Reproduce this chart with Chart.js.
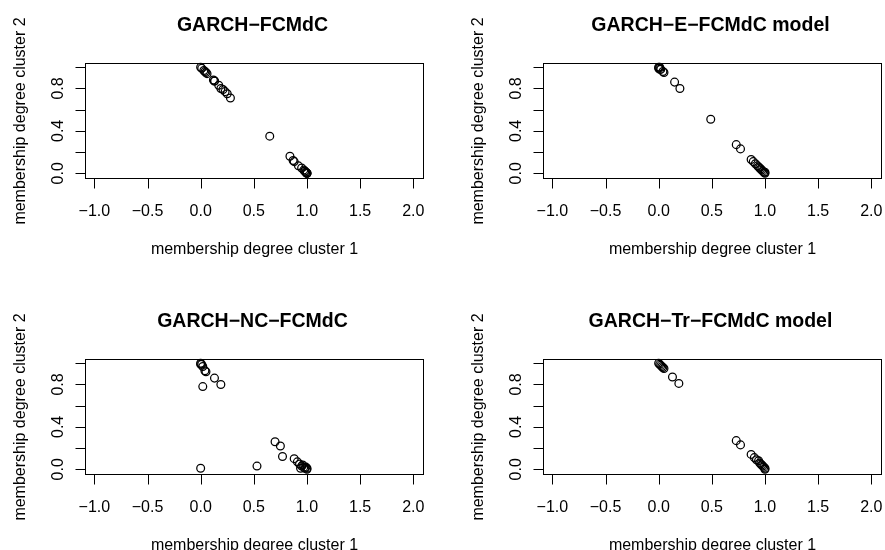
<!DOCTYPE html>
<html>
<head>
<meta charset="utf-8">
<title>Membership degrees</title>
<script src="https://cdn.jsdelivr.net/npm/chart.js@4.4.1/dist/chart.umd.min.js"></script>
<style>
  html, body { margin: 0; padding: 0; background: #fff; overflow: hidden; }
  #wrap { position: relative; width: 885px; height: 550px; overflow: hidden; }
  #wrap canvas { position: absolute; }
</style>
</head>
<body>
<div id="wrap">
  <canvas id="p1" width="458" height="296" style="left:0;top:0"></canvas>
  <canvas id="p2" width="458" height="296" style="left:458px;top:0"></canvas>
  <canvas id="p3" width="458" height="296" style="left:0;top:296px"></canvas>
  <canvas id="p4" width="458" height="296" style="left:458px;top:296px"></canvas>
</div>
<script>
// membership degrees per model (cluster 1 on x, cluster 2 on y)
const fcmdcX = [0.00, 0.01, 0.03, 0.04, 0.05, 0.06, 0.12, 0.13, 0.13, 0.17, 0.19, 0.21, 0.23, 0.25, 0.28,
                0.65, 0.84, 0.87, 0.88, 0.92, 0.95, 0.97, 0.98, 0.98, 0.99, 0.99, 1.00, 1.00, 1.00];
const fcmdcY = [1.00, 0.99, 0.97, 0.96, 0.95, 0.94, 0.88, 0.87, 0.87, 0.83, 0.80, 0.79, 0.77, 0.75, 0.71,
                0.35, 0.16, 0.12, 0.11, 0.07, 0.05, 0.03, 0.02, 0.02, 0.01, 0.01, 0.00, 0.00, 0.00];

const eFcmdcX = [0.00, 0.00, 0.01, 0.01, 0.02, 0.04, 0.05, 0.15, 0.20, 0.49, 0.73, 0.77,
                 0.87, 0.89, 0.91, 0.93, 0.94, 0.95, 0.96, 0.97, 0.98, 0.99, 1.00, 1.00];
const eFcmdcY = [1.00, 0.99, 1.00, 0.98, 0.98, 0.96, 0.95, 0.86, 0.80, 0.51, 0.27, 0.23,
                 0.13, 0.11, 0.09, 0.07, 0.06, 0.05, 0.04, 0.03, 0.02, 0.01, 0.01, 0.00];

const ncFcmdcX = [0.00, 0.00, 0.01, 0.02, 0.04, 0.05, 0.13, 0.19, 0.02, 0.00, 0.53, 0.70, 0.75,
                  0.77, 0.88, 0.91, 0.93, 0.94, 0.95, 0.96, 0.97, 0.98, 0.99, 1.00, 1.00];
const ncFcmdcY = [1.00, 0.99, 0.99, 0.97, 0.93, 0.92, 0.86, 0.80, 0.78, 0.01, 0.03, 0.26, 0.22,
                  0.12, 0.10, 0.07, 0.05, 0.01, 0.03, 0.04, 0.02, 0.01, 0.02, 0.01, 0.00];

const trFcmdcX = [0.00, 0.01, 0.02, 0.03, 0.04, 0.05, 0.13, 0.19, 0.73, 0.77, 0.87,
                  0.90, 0.92, 0.94, 0.95, 0.96, 0.97, 0.98, 0.99, 1.00, 1.00];
const trFcmdcY = [1.00, 0.99, 0.98, 0.97, 0.96, 0.95, 0.87, 0.81, 0.27, 0.23, 0.14,
                  0.11, 0.09, 0.08, 0.06, 0.05, 0.04, 0.03, 0.02, 0.01, 0.00];

const titles = ['GARCH\u2212FCMdC', 'GARCH\u2212E\u2212FCMdC model',
                'GARCH\u2212NC\u2212FCMdC', 'GARCH\u2212Tr\u2212FCMdC model'];

const xTicks = [-1, -0.5, 0, 0.5, 1, 1.5, 2];
const xTickLabels = ['\u22121.0', '\u22120.5', '0.0', '0.5', '1.0', '1.5', '2.0'];
const yTicks = [0, 0.2, 0.4, 0.6, 0.8, 1];
const yTickLabels = ['0.0', '', '0.4', '', '0.8', ''];

const xLabel = 'membership degree cluster 1';
const yLabel = 'membership degree cluster 2';

const FONT = "'Liberation Sans', Arial, Helvetica, sans-serif";

// base-graphics look: box, outward ticks, rotated y labels
const rAxes = {
  id: 'rAxes',
  afterDraw(chart, args, opts) {
    const { ctx, chartArea: a, scales: { x, y } } = chart;
    ctx.save();
    ctx.strokeStyle = '#000';
    ctx.fillStyle = '#000';
    ctx.lineWidth = 1;

    const L = Math.round(a.left) + 0.5, T = Math.round(a.top) + 0.5;
    const R = Math.round(a.right) + 0.5, B = Math.round(a.bottom) + 0.5;
    ctx.strokeRect(L, T, R - L, B - T);

    ctx.beginPath();
    xTicks.forEach(v => {
      const px = Math.round(x.getPixelForValue(v)) + 0.5;
      ctx.moveTo(px, B); ctx.lineTo(px, B + 10);
    });
    yTicks.forEach(v => {
      const py = Math.round(y.getPixelForValue(v)) + 0.5;
      ctx.moveTo(L, py); ctx.lineTo(L - 10, py);
    });
    ctx.stroke();

    ctx.font = '16px ' + FONT;
    ctx.textAlign = 'center';
    ctx.textBaseline = 'alphabetic';
    xTicks.forEach((v, i) => {
      ctx.fillText(xTickLabels[i], x.getPixelForValue(v), B + 37);
    });
    yTicks.forEach((v, i) => {
      if (!yTickLabels[i]) return;
      ctx.save();
      ctx.translate(L - 23, y.getPixelForValue(v));
      ctx.rotate(-Math.PI / 2);
      ctx.fillText(yTickLabels[i], 0, 0);
      ctx.restore();
    });

    ctx.fillText(xLabel, (L + R) / 2, B + 75);
    ctx.save();
    ctx.translate(L - 61, (T + B) / 2);
    ctx.rotate(-Math.PI / 2);
    ctx.fillText(yLabel, 0, 0);
    ctx.restore();

    ctx.font = 'bold 19.5px ' + FONT;
    ctx.fillText(opts.title, (L + R) / 2 - 2, 31);
    ctx.restore();
  }
};

function toPoints(xs, ys) {
  return xs.map((v, i) => ({ x: v, y: ys[i] }));
}

function makePanel(id, title, xs, ys) {
  return new Chart(document.getElementById(id), {
    type: 'scatter',
    data: {
      datasets: [{
        data: toPoints(xs, ys),
        pointStyle: 'circle',
        pointRadius: 3.9,
        pointBorderWidth: 1.25,
        pointBorderColor: '#000',
        pointBackgroundColor: 'rgba(0,0,0,0)',
        clip: false
      }]
    },
    options: {
      responsive: false,
      animation: false,
      events: [],
      layout: { padding: { left: 85, top: 62.5, right: 35.5, bottom: 118.5 } },
      scales: {
        x: { type: 'linear', min: -1.088, max: 2.087, display: false },
        y: { type: 'linear', min: -0.04, max: 1.045, display: false }
      },
      plugins: {
        legend: { display: false },
        tooltip: { enabled: false },
        rAxes: { title: title }
      }
    },
    plugins: [rAxes]
  });
}

makePanel('p1', titles[0], fcmdcX, fcmdcY);
makePanel('p2', titles[1], eFcmdcX, eFcmdcY);
makePanel('p3', titles[2], ncFcmdcX, ncFcmdcY);
makePanel('p4', titles[3], trFcmdcX, trFcmdcY);
</script>
</body>
</html>
